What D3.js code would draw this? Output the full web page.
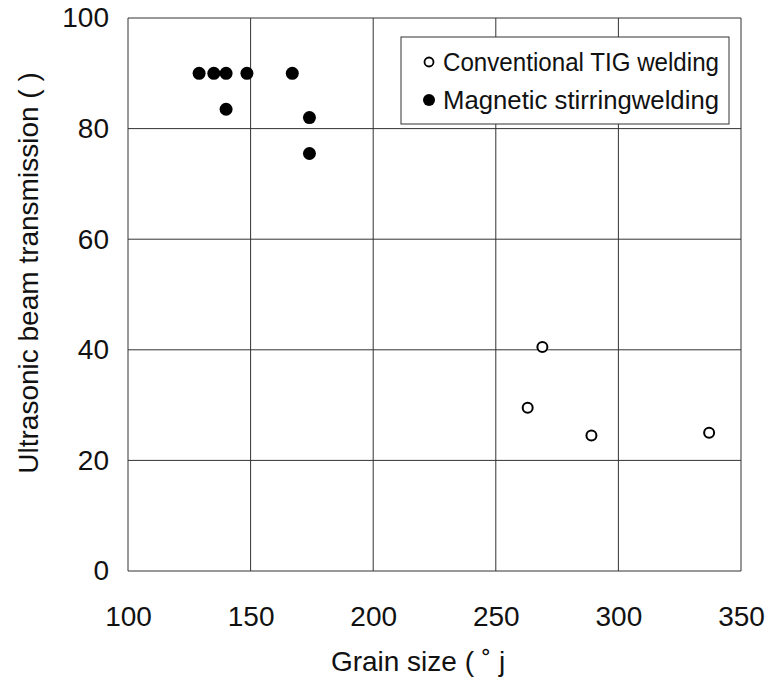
<!DOCTYPE html>
<html>
<head>
<meta charset="utf-8">
<script src="https://cdn.jsdelivr.net/npm/d3@7"></script>
<style>
  body { margin: 0; background: #fff; }
  text { font-family: "Liberation Sans", Arial, sans-serif; fill: #111; }
</style>
</head>
<body>
<div id="chart"></div>
<script>
// data
var tigGrain = [269, 263, 289, 337];
var tigTrans = [40.5, 29.5, 24.5, 25];
var magGrain = [129, 135, 140, 148.5, 167, 140, 174, 174];
var magTrans = [90, 90, 90, 90, 90, 83.5, 82, 75.5];
var xTicks = [100, 150, 200, 250, 300, 350];
var yTicks = [0, 20, 40, 60, 80, 100];
var legendLabels = ["Conventional TIG welding", "Magnetic stirringwelding"];

var svgWidth = 769;
var svgHeight = 677;

var margin = { top: 18, right: 28, bottom: 106, left: 128 };
var chartWidth = svgWidth - margin.left - margin.right;
var chartHeight = svgHeight - margin.top - margin.bottom;

var svg = d3.select("#chart")
  .append("svg")
  .attr("width", svgWidth)
  .attr("height", svgHeight);

var chartGroup = svg.append("g")
  .attr("transform", `translate(${margin.left}, ${margin.top})`);

var xScale = d3.scaleLinear().domain([100, 350]).range([0, chartWidth]);
var yScale = d3.scaleLinear().domain([0, 100]).range([chartHeight, 0]);

// grid lines
chartGroup.append("g")
  .selectAll("line")
  .data(xTicks)
  .enter()
  .append("line")
  .attr("x1", d => xScale(d)).attr("x2", d => xScale(d))
  .attr("y1", 0).attr("y2", chartHeight)
  .attr("stroke", "#333")
  .attr("stroke-width", 1);

chartGroup.append("g")
  .selectAll("line")
  .data(yTicks)
  .enter()
  .append("line")
  .attr("x1", 0).attr("x2", chartWidth)
  .attr("y1", d => yScale(d)).attr("y2", d => yScale(d))
  .attr("stroke", "#333")
  .attr("stroke-width", 1);

// axes (labels only)
var bottomAxis = d3.axisBottom(xScale).tickValues(xTicks).tickSize(0).tickPadding(35);
var leftAxis = d3.axisLeft(yScale).tickValues(yTicks).tickSize(0).tickPadding(19);

chartGroup.append("g")
  .attr("transform", `translate(0, ${chartHeight})`)
  .call(bottomAxis)
  .call(g => g.select(".domain").remove())
  .selectAll("text")
  .style("font-size", "28px")
  .attr("fill", "#111");

chartGroup.append("g")
  .call(leftAxis)
  .call(g => g.select(".domain").remove())
  .selectAll("text")
  .style("font-size", "28px")
  .attr("fill", "#111");

// points
chartGroup.append("g")
  .selectAll("circle")
  .data(magGrain)
  .enter()
  .append("circle")
  .attr("cx", d => xScale(d))
  .attr("cy", (d, i) => yScale(magTrans[i]))
  .attr("r", 6.5)
  .attr("fill", "#000");

chartGroup.append("g")
  .selectAll("circle")
  .data(tigGrain)
  .enter()
  .append("circle")
  .attr("cx", d => xScale(d))
  .attr("cy", (d, i) => yScale(tigTrans[i]))
  .attr("r", 5)
  .attr("fill", "#fff")
  .attr("stroke", "#000")
  .attr("stroke-width", 2);

// legend
var legend = svg.append("g");
legend.append("rect")
  .attr("x", 401).attr("y", 37)
  .attr("width", 328).attr("height", 87)
  .attr("fill", "#fff")
  .attr("stroke", "#333");

legend.append("circle")
  .attr("cx", 429).attr("cy", 62).attr("r", 4.5)
  .attr("fill", "#fff").attr("stroke", "#000").attr("stroke-width", 1.8);
legend.append("circle")
  .attr("cx", 429).attr("cy", 100).attr("r", 6)
  .attr("fill", "#000");

legend.selectAll("text")
  .data(legendLabels)
  .enter()
  .append("text")
  .attr("x", 443)
  .attr("y", (d, i) => 62 + i * 38)
  .attr("dy", "0.35em")
  .attr("textLength", 276)
  .attr("lengthAdjust", "spacingAndGlyphs")
  .style("font-size", "26px")
  .text(d => d);

// axis titles
svg.append("text")
  .attr("transform", "translate(38, 273) rotate(-90)")
  .attr("text-anchor", "middle")
  .style("font-size", "28px")
  .text("Ultrasonic beam transmission ( )");

svg.append("text")
  .attr("x", 418)
  .attr("y", 671)
  .attr("text-anchor", "middle")
  .style("font-size", "28px")
  .text("Grain size (  ˚  j");
</script>
</body>
</html>
